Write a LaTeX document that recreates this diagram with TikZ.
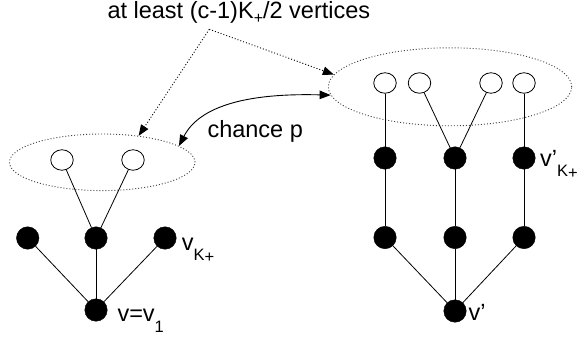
\documentclass[tikz,border=0pt]{standalone}
\usepackage{fontspec}
\setmainfont{Liberation Sans}
\usetikzlibrary{arrows.meta,shapes.geometric}
% lowered, smaller index text
\newcommand\lowsub[2]{\raisebox{-#1}{\fontsize{16.5}{18}\selectfont #2}}
\begin{document}
\begin{tikzpicture}[x=1pt,y=-1pt,
  filled/.style={circle, fill=black, draw=black, minimum size=22.5pt, inner sep=0pt},
  hollow/.style={ellipse, fill=white, draw=black, line width=0.8pt,
                 minimum width=22.5pt, minimum height=20.5pt, inner sep=0pt},
  link/.style={line width=0.8pt},
  grp/.style={ellipse, draw=black!75, line width=0.9pt,
              dash pattern=on 1pt off 2pt, inner sep=0pt},
  pointer/.style={line width=0.9pt, dash pattern=on 1pt off 2pt,
                  -{Triangle[length=11pt,width=8.5pt]}},
  both/.style={line width=0.9pt,
               {Triangle[length=11pt,width=8.5pt]}-{Triangle[length=11pt,width=8.5pt]}},
  lbl/.style={inner sep=0pt, anchor=base west, font=\fontsize{23.5}{27}\selectfont}]
\useasboundingbox (0,0) rectangle (577,339);

% dotted groups
\node[grp, minimum width=185.6pt, minimum height=56.6pt] (le) at (102.2,162.3) {};
\node[grp, minimum width=243.4pt, minimum height=78pt] (re) at (450,86.8) {};

% left tree
\node[hollow] (lw1) at (62,160) {};
\node[hollow] (lw2) at (133,160) {};
\node[filled] (lb1) at (27.7,238) {};
\node[filled] (lb2) at (96,238) {};
\node[filled] (lb3) at (165,238) {};
\node[filled] (lr) at (96,310) {};
\draw[link] (lw1) -- (lb2);
\draw[link] (lw2) -- (lb2);
\draw[link] (lb1) -- (lr);
\draw[link] (lb2) -- (lr);
\draw[link] (lb3) -- (lr);

% right tree
\node[hollow] (rw1) at (385,83) {};
\node[hollow] (rw2) at (419.5,83) {};
\node[hollow] (rw3) at (491,83) {};
\node[hollow] (rw4) at (524,83) {};
\node[filled] (ra1) at (385,158) {};
\node[filled] (ra2) at (455,158) {};
\node[filled] (ra3) at (524,158) {};
\node[filled] (rb1) at (385,237.5) {};
\node[filled] (rb2) at (455,237.5) {};
\node[filled] (rb3) at (524,237.5) {};
\node[filled] (rr) at (455,311) {};
\draw[link] (rw1) -- (ra1);
\draw[link] (rw2) -- (ra2);
\draw[link] (rw3) -- (ra2);
\draw[link] (rw4) -- (ra3);
\draw[link] (ra1) -- (rb1);
\draw[link] (ra2) -- (rb2);
\draw[link] (ra3) -- (rb3);
\draw[link] (rb1) -- (rr);
\draw[link] (rb2) -- (rr);
\draw[link] (rb3) -- (rr);

% texts
\node[lbl] (top) at (107.3,18.3)
  {at least (c-1)K\raisebox{-4.8pt}{\fontsize{16}{18}\selectfont +}/2 vertices};
\node[lbl] (chance) at (207.3,137.7) {chance p};
\node[lbl] (vroot) at (117.3,321.7) {v=v\lowsub{11pt}{1}};
\node[lbl] (vk) at (181.7,250.7) {v\lowsub{9.5pt}{K\raisebox{-2pt}{+}}};
\node[lbl] (vprime) at (468.3,320.5) {v’};
\node[lbl] (vkprime) at (540,166.7) {v’\lowsub{10pt}{K\raisebox{-2pt}{+}}};

% pointers from the caption to both groups
\coordinate (apex) at (209.3,29.3);
\draw[pointer] (apex) -- (le.36);
\draw[pointer] (apex) -- (re.174);

% exchange between the groups
\draw[both] (le.12) .. controls (200,105) and (250,93) .. (re.184);
\end{tikzpicture}
\end{document}
